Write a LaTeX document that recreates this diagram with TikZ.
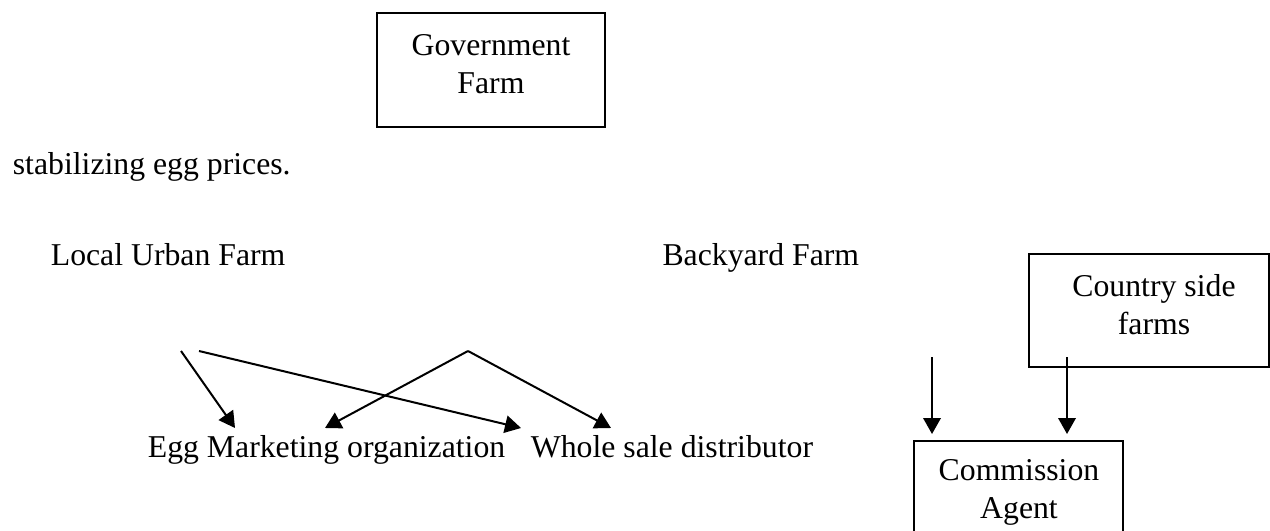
\documentclass[tikz,border=0pt]{standalone}
\usepackage{fontspec}
\setmainfont{Liberation Serif}
\usetikzlibrary{arrows.meta}
\begin{document}
\begin{tikzpicture}[x=0.4pt, y=-0.4pt, line width=0.7pt,
    box/.style = {draw, rectangle, inner sep=0pt},
    word/.style = {font=\fontsize{12.7}{15.2}\selectfont, inner sep=0pt, align=center},
    flow/.style = {line width=0.8pt, -{Triangle[width=7pt,length=6.4pt]}}]
    \useasboundingbox (0,0) rectangle (1270,531);
    % boxes
    \node[box, minimum width=91.2pt, minimum height=45.6pt] (gov) at (491,70) {};
    \node[box, minimum width=96pt, minimum height=45.2pt] (country) at (1149,310.5) {};
    \node[box, minimum width=83.6pt, minimum height=45.2pt] (agent) at (1018.5,497.5) {};
    \node[word] (govtext) at (491,64) {Government\\Farm};
    \node[word] (countrytext) at (1154,305) {Country side\\farms};
    \node[word] (agenttext) at (1019,492) {Commission\\Agent};
    % plain labels
    \node[word, anchor=base west] (note) at (12,175) {stabilizing egg prices.};
    \node[word, anchor=base west] (local) at (50,266) {Local Urban Farm};
    \node[word, anchor=base east] (back) at (860,266) {Backyard Farm};
    \node[word, anchor=base west] (egg) at (147,457) {Egg Marketing organization};
    \node[word, anchor=base west] (whole) at (530,457) {Whole sale distributor};
    % arrow ends
    \coordinate (l1) at (181,351);
    \coordinate (l2) at (199,351);
    \coordinate (top) at (468,351);
    \coordinate (e1) at (235,428);
    \coordinate (e2) at (325,428);
    \coordinate (w1) at (521,428);
    \coordinate (w2) at (611,428);
    \coordinate (c1) at (932,357);
    \coordinate (c2) at (1067,357);
    \coordinate (a1) at (932,434);
    \coordinate (a2) at (1067,434);
    \draw[flow] (l1) -- (e1);
    \draw[flow] (l2) -- (w1);
    \draw[flow] (top) -- (e2);
    \draw[flow] (top) -- (w2);
    \draw[flow] (c1) -- (a1);
    \draw[flow] (c2) -- (a2);
\end{tikzpicture}
\end{document}
